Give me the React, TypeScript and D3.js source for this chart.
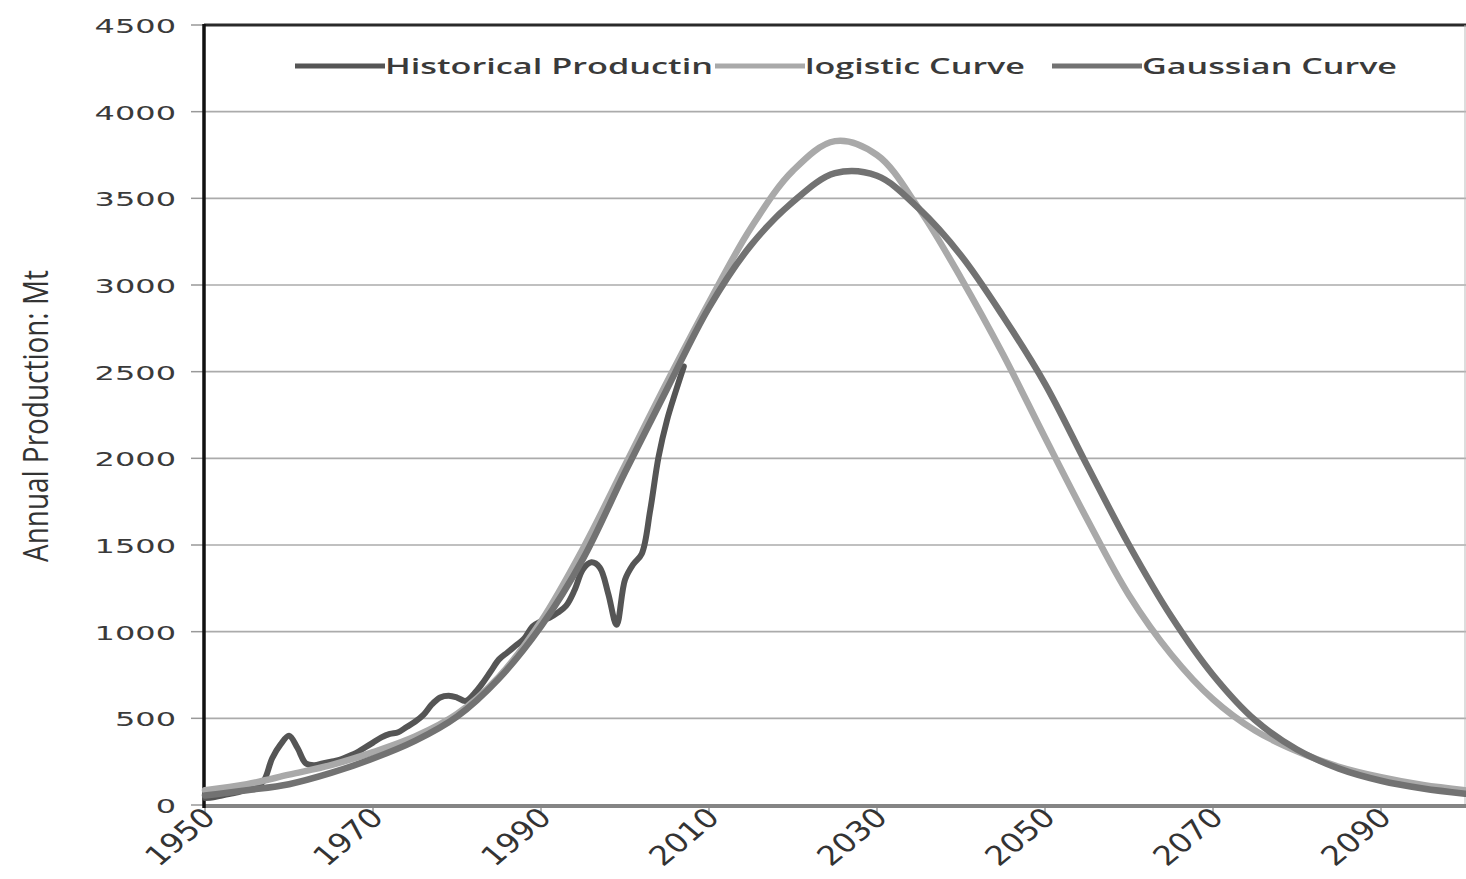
import * as d3 from "d3";
import { useEffect, useRef } from "react";

// Historical production (Mt), one value per year 1950-2007
const histYears = d3.range(1950, 2008);
const histValues = [
  40, 45, 55, 65, 75, 90, 100, 140, 270, 350,
  400, 330, 240, 230, 240, 250, 260, 280, 300, 330,
  360, 390, 410, 420, 450, 480, 520, 580, 620, 630,
  620, 600, 640, 700, 770, 840, 880, 920, 960, 1030,
  1060, 1080, 1110, 1150, 1240, 1360, 1400, 1370, 1220, 1040,
  1300, 1390, 1450, 1700, 2010, 2220, 2380, 2530,
];

// Fitted curves, read every 5 years
const curveYears = [
  1950, 1955, 1960, 1965, 1970, 1975, 1980, 1985, 1990, 1995, 2000, 2005,
  2010, 2015, 2020, 2025, 2030, 2035, 2040, 2045, 2050, 2055, 2060,
  2065, 2070, 2075, 2080, 2085, 2090, 2095, 2100,
];
const logisticValues = [
  85, 120, 175, 230, 305, 395, 525, 740, 1060, 1480, 1960, 2440,
  2900, 3330, 3660, 3830, 3750, 3440, 3040, 2600, 2120, 1650, 1210,
  870, 610, 430, 310, 220, 160, 115, 85,
];
const gaussianValues = [
  55, 85, 120, 185, 268, 370, 510, 730, 1030, 1420, 1920, 2400,
  2870, 3230, 3480, 3645, 3630, 3440, 3170, 2820, 2430, 1960, 1500,
  1090, 750, 490, 320, 210, 140, 95, 65,
];

const yTicks = [0, 500, 1000, 1500, 2000, 2500, 3000, 3500, 4000, 4500];
const xTicks = [1950, 1970, 1990, 2010, 2030, 2050, 2070, 2090];

const seriesNames = ["Historical Productin", "logistic Curve", "Gaussian Curve"];
const seriesColors = ["#555555", "#a9a9a9", "#727272"];

const App = () => {
  const svgRef = useRef(null);

  useEffect(() => {
    if (!svgRef.current) return;
    const svg = d3.select(svgRef.current);
    svg.selectAll("*").remove();

    const x = d3.scaleLinear().domain([1950, 2100]).range([205, 1465]);
    const y = d3.scaleLinear().domain([0, 4500]).range([805, 25]);

    // gridlines
    svg
      .append("g")
      .selectAll("line")
      .data(yTicks.filter((t) => t > 0 && t < 4500))
      .join("line")
      .attr("x1", x(1950))
      .attr("x2", 1466)
      .attr("y1", (d) => y(d))
      .attr("y2", (d) => y(d))
      .attr("stroke", "#ababab")
      .attr("stroke-width", 1.6);

    // y tick marks and labels
    const yAxis = svg.append("g");
    yAxis
      .selectAll("line")
      .data(yTicks)
      .join("line")
      .attr("x1", x(1950) - 14)
      .attr("x2", x(1950))
      .attr("y1", (d) => y(d))
      .attr("y2", (d) => y(d))
      .attr("stroke", "#999")
      .attr("stroke-width", 1.5);
    yAxis
      .selectAll("text")
      .data(yTicks)
      .join("text")
      .attr("transform", (d) => `translate(176,${y(d) + 8}) scale(1.6,1)`)
      .attr("text-anchor", "end")
      .attr("font-family", "DejaVu Sans")
      .attr("font-size", 20)
      .attr("fill", "#3a3a3a")
      .text((d) => d);

    // x tick marks and labels
    const xAxis = svg.append("g");
    xAxis
      .selectAll("line")
      .data(xTicks)
      .join("line")
      .attr("x1", (d) => x(d))
      .attr("x2", (d) => x(d))
      .attr("y1", y(0))
      .attr("y2", y(0) + 8)
      .attr("stroke", "#999")
      .attr("stroke-width", 1.5);
    xAxis
      .selectAll("text")
      .data(xTicks)
      .join("text")
      .attr("transform", (d) => `translate(${x(d) + 12},${y(0) + 14}) scale(1.2,1) rotate(-45)`)
      .attr("text-anchor", "end")
      .attr("font-family", "DejaVu Sans")
      .attr("font-size", 27)
      .attr("fill", "#333")
      .text((d) => d);

    // frame: top border, right edge, bottom axis, left axis
    svg
      .append("line")
      .attr("x1", x(1950) - 1)
      .attr("x2", 1466)
      .attr("y1", y(4500))
      .attr("y2", y(4500))
      .attr("stroke", "#2a2a2a")
      .attr("stroke-width", 3);
    svg
      .append("line")
      .attr("x1", x(2100))
      .attr("x2", x(2100))
      .attr("y1", y(4500))
      .attr("y2", y(0))
      .attr("stroke", "#bbb")
      .attr("stroke-width", 1);
    svg
      .append("line")
      .attr("x1", x(1950))
      .attr("x2", 1466)
      .attr("y1", y(0) + 1)
      .attr("y2", y(0) + 1)
      .attr("stroke", "#858585")
      .attr("stroke-width", 4);
    svg
      .append("line")
      .attr("x1", x(1950) - 1)
      .attr("x2", x(1950) - 1)
      .attr("y1", y(4500) - 1)
      .attr("y2", y(0) + 3)
      .attr("stroke", "#111")
      .attr("stroke-width", 3.5);

    // series lines
    const line = d3
      .line()
      .x((d) => x(d[0]))
      .y((d) => y(d[1]))
      .curve(d3.curveCatmullRom.alpha(0.5));

    const series = [
      histYears.map((yr, i) => [yr, histValues[i]]),
      curveYears.map((yr, i) => [yr, logisticValues[i]]),
      curveYears.map((yr, i) => [yr, gaussianValues[i]]),
    ];
    const widths = [6, 6.5, 6.5];

    svg
      .append("g")
      .attr("fill", "none")
      .attr("stroke-linejoin", "round")
      .attr("stroke-linecap", "round")
      .selectAll("path")
      .data(series)
      .join("path")
      .attr("d", (d) => line(d))
      .attr("stroke", (_d, i) => seriesColors[i])
      .attr("stroke-width", (_d, i) => widths[i]);

    // legend
    const legendX = [295, 715, 1052];
    const legendW = [328, 220, 255];
    const legend = svg
      .append("g")
      .selectAll("g")
      .data(seriesNames)
      .join("g")
      .attr("transform", (_d, i) => `translate(${legendX[i]},66)`);
    legend
      .append("line")
      .attr("x1", 0)
      .attr("x2", 90)
      .attr("stroke", (_d, i) => seriesColors[i])
      .attr("stroke-width", 5);
    legend
      .append("text")
      .attr("x", 90)
      .attr("y", 8)
      .attr("font-family", "Open Sans")
      .attr("font-weight", 600)
      .attr("font-size", 22)
      .attr("fill", "#3a3a3a")
      .attr("textLength", (_d, i) => legendW[i])
      .attr("lengthAdjust", "spacingAndGlyphs")
      .text((d) => d);

    // y axis title
    svg
      .append("text")
      .attr("transform", "translate(48,416) scale(1.4,1) rotate(-90)")
      .attr("text-anchor", "middle")
      .attr("font-family", "Open Sans")
      .attr("font-size", 25)
      .attr("fill", "#333")
      .attr("textLength", 292)
      .attr("lengthAdjust", "spacingAndGlyphs")
      .text("Annual Production: Mt");
  }, []);

  return (
    <svg
      ref={svgRef}
      width={1466}
      height={879}
      style={{ position: "absolute", left: 0, top: 0, background: "#fff" }}
    />
  );
};

export default App;
